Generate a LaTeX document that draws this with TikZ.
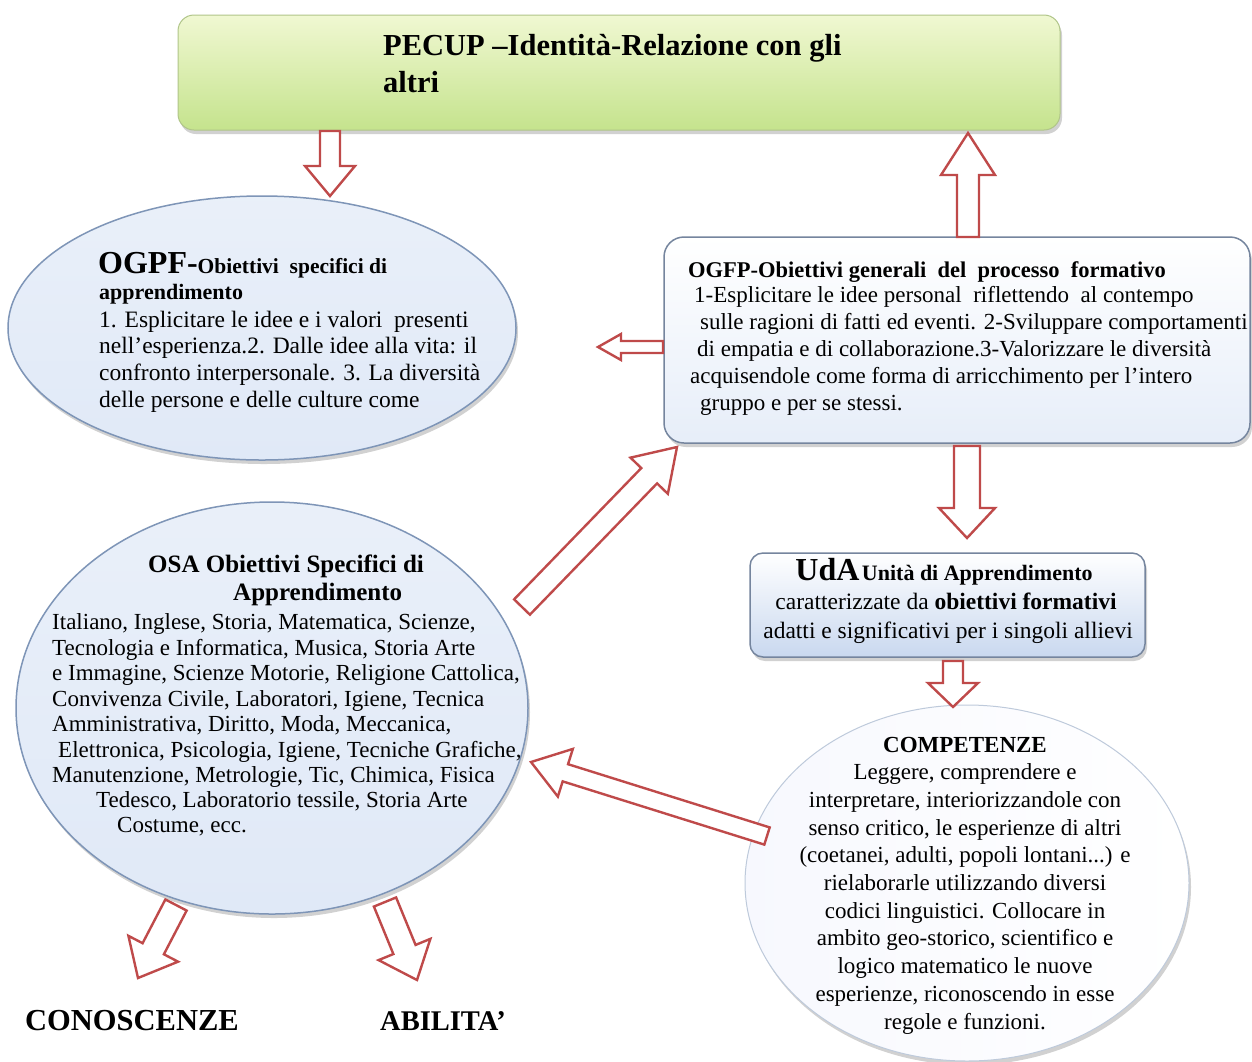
\documentclass[tikz,border=0pt]{standalone}
\usepackage{fontspec}
\setmainfont{Liberation Serif}
\usetikzlibrary{calc,shapes.geometric,shadows}
\definecolor{arrred}{HTML}{BF4A4A}
\definecolor{ellborder}{HTML}{7E95B7}
\definecolor{boxborder}{HTML}{75859E}
\definecolor{ellfill}{HTML}{E0E9F7}
\definecolor{udabot}{HTML}{C9D8EF}
\definecolor{greentop}{HTML}{F0F8D2}
\definecolor{greenbot}{HTML}{C5E38D}
\tikzset{
  myshadow/.style={drop shadow={shadow xshift=2pt,shadow yshift=-4pt,fill=black!40,opacity=.45}},
  pecupbox/.style={rectangle,rounded corners=16pt,draw=greenbot!70!gray,line width=1pt,top color=greentop,bottom color=greenbot,myshadow},
  ellbox/.style={ellipse,draw=ellborder,line width=1.5pt,top color=ellfill!70,bottom color=ellfill,myshadow},
  ogfpbox/.style={rectangle,rounded corners=20pt,draw=boxborder,line width=1.5pt,top color=white,bottom color=ellfill!80,myshadow},
  udabox/.style={rectangle,rounded corners=13pt,draw=boxborder,line width=1.5pt,top color=white,bottom color=udabot,myshadow},
  compbox/.style={ellipse,draw=ellborder!50,line width=1pt,left color=ellfill!90!blue!15,right color=white,myshadow},
  blockarr/.style={draw=arrred,line width=2.4pt,fill=white,line join=miter},
  ln/.style={anchor=base west,inner sep=0pt},
  lc/.style={anchor=base,inner sep=0pt},
}
\newcommand\barrow[5]{%
  \coordinate (hb) at ($(#2)!#5!(#1)$);
  \draw[blockarr] ($(#1)!#3!90:(#2)$) -- ($(hb)!#3!90:(#2)$) -- ($(hb)!#4!90:(#2)$) -- (#2)
    -- ($(hb)!#4!-90:(#2)$) -- ($(hb)!#3!-90:(#2)$) -- ($(#1)!#3!-90:(#2)$) -- cycle;}
\newcommand\fs[1]{\fontsize{#1}{#1}\selectfont}
\begin{document}
\begin{tikzpicture}[x=1pt,y=-1pt]
\useasboundingbox (0,0) rectangle (1252,1061);
\fill[white] (0,0) rectangle (1252,1061);

% shapes
\node[pecupbox,minimum width=882pt,minimum height=115pt] (pecup) at (619,72.5) {};
\node[ellbox,minimum width=508pt,minimum height=264pt] (ogpf) at (262,328) {};
\node[ogfpbox,minimum width=586pt,minimum height=206pt] (ogfp) at (957,340) {};
\node[ellbox,minimum width=512pt,minimum height=412pt] (osa) at (272,708) {};
\node[udabox,minimum width=395pt,minimum height=104pt] (uda) at (947.5,605) {};
\node[compbox,minimum width=444pt,minimum height=356pt] (comp) at (967,883) {};

% block arrows (connectors)
\coordinate (a1s) at (330,131); \coordinate (a1e) at (330,196);
\coordinate (a2s) at (968,237); \coordinate (a2e) at (968,133);
\coordinate (a3s) at (663,347); \coordinate (a3e) at (598,347);
\coordinate (a4s) at (522,607); \coordinate (a4e) at (677,447);
\coordinate (a5s) at (967,446); \coordinate (a5e) at (967,538);
\coordinate (a6s) at (953,661); \coordinate (a6e) at (953,707);
\coordinate (a7s) at (767,836); \coordinate (a7e) at (531,762);
\coordinate (a8s) at (176,905); \coordinate (a8e) at (138,978);
\coordinate (a9s) at (385,902); \coordinate (a9e) at (417,980);
\barrow{a1s}{a1e}{10pt}{25pt}{30pt}
\barrow{a2s}{a2e}{11pt}{27pt}{42pt}
\barrow{a3s}{a3e}{6pt}{13pt}{23pt}
\barrow{a4s}{a4e}{11pt}{26pt}{40pt}
\barrow{a5s}{a5e}{13pt}{28pt}{30pt}
\barrow{a6s}{a6e}{10pt}{25pt}{24pt}
\barrow{a7s}{a7e}{9pt}{25pt}{36pt}
\barrow{a8s}{a8e}{12pt}{28pt}{33pt}
\barrow{a9s}{a9e}{12pt}{28pt}{33pt}

% PECUP text
\node[ln,font=\fs{30.5}\bfseries] (p1) at (383,55) {PECUP –Identità-Relazione con gli};
\node[ln,font=\fs{30.5}\bfseries] (p2) at (383,92) {altri};

% OGPF text
\node[ln] (o1) at (98,273) {{\fs{32}\bfseries OGPF-}{\fs{21.5}\bfseries Obiettivi\ \ specifici di}};
\node[ln,font=\fs{22}\bfseries] (o2) at (99,299) {apprendimento};
\node[ln,font=\fs{23.5}] (o3) at (99,327) {1. Esplicitare le idee e i valori\ \ presenti};
\node[ln,font=\fs{23.5}] (o4) at (99,353) {nell’esperienza.2. Dalle idee alla vita: il};
\node[ln,font=\fs{23.5}] (o5) at (99,380) {confronto interpersonale. 3. La diversità};
\node[ln,font=\fs{23.5}] (o6) at (99,407) {delle persone e delle culture come};

% OGFP text
\node[ln,font=\fs{22.5}\bfseries] (g1) at (688,277) {OGFP-Obiettivi generali\ \ del\ \ processo\ \ formativo};
\node[ln,font=\fs{23}] (g2) at (694,302) {1-Esplicitare le idee personal\ \ riflettendo\ \ al contempo};
\node[ln,font=\fs{23}] (g3) at (700,329) {sulle ragioni di fatti ed eventi. 2-Sviluppare comportamenti};
\node[ln,font=\fs{23}] (g4) at (697,356) {di empatia e di collaborazione.3-Valorizzare le diversità};
\node[ln,font=\fs{23}] (g5) at (690,383) {acquisendole come forma di arricchimento per l’intero};
\node[ln,font=\fs{23}] (g6) at (700,410) {gruppo e per se stessi.};

% UdA text
\node[lc] (u1) at (944,580) {{\fs{32}\bfseries UdA} {\fs{22}\bfseries Unità di Apprendimento}};
\node[lc,font=\fs{23.5}] (u2) at (946,609) {caratterizzate da \textbf{obiettivi formativi}};
\node[lc,font=\fs{23.5}] (u3) at (948,638) {adatti e significativi per i singoli allievi};

% COMPETENZE text
\node[lc,font=\fs{23}\bfseries] (c0) at (965,752) {COMPETENZE};
\node[lc,font=\fs{23}] (c1) at (965,779.7) {Leggere, comprendere e};
\node[lc,font=\fs{23}] (c2) at (965,807.4) {interpretare, interiorizzandole con};
\node[lc,font=\fs{23}] (c3) at (965,835.1) {senso critico, le esperienze di altri};
\node[lc,font=\fs{23}] (c4) at (965,862.8) {(coetanei, adulti, popoli lontani...) e};
\node[lc,font=\fs{23}] (c5) at (965,890.5) {rielaborarle utilizzando diversi};
\node[lc,font=\fs{23}] (c6) at (965,918.2) {codici linguistici. Collocare in};
\node[lc,font=\fs{23}] (c7) at (965,945.9) {ambito geo-storico, scientifico e};
\node[lc,font=\fs{23}] (c8) at (965,973.6) {logico matematico le nuove};
\node[lc,font=\fs{23}] (c9) at (965,1001.3) {esperienze, riconoscendo in esse};
\node[lc,font=\fs{23}] (c10) at (965,1029) {regole e funzioni.};

% OSA text
\node[ln,font=\fs{25}\bfseries] (s0) at (148,572) {OSA Obiettivi Specifici di};
\node[ln,font=\fs{25}\bfseries] (s1) at (233,600) {Apprendimento};
\node[ln,font=\fs{23}] (s2) at (52,629) {Italiano, Inglese, Storia, Matematica, Scienze,};
\node[ln,font=\fs{23}] (s3) at (52,655) {Tecnologia e Informatica, Musica, Storia Arte};
\node[ln,font=\fs{23}] (s4) at (52,680) {e Immagine, Scienze Motorie, Religione Cattolica,};
\node[ln,font=\fs{23}] (s5) at (52,706) {Convivenza Civile, Laboratori, Igiene, Tecnica};
\node[ln,font=\fs{23}] (s6) at (52,731) {Amministrativa, Diritto, Moda, Meccanica,};
\node[ln,font=\fs{23}] (s7) at (58,757) {Elettronica, Psicologia, Igiene, Tecniche Grafiche,};
\node[ln,font=\fs{23}] (s8) at (52,782) {Manutenzione, Metrologie, Tic, Chimica, Fisica};
\node[ln,font=\fs{23}] (s9) at (96,807) {Tedesco, Laboratorio tessile, Storia Arte};
\node[ln,font=\fs{23}] (s10) at (117,832) {Costume, ecc.};

% bottom labels
\node[ln,font=\fs{30.5}\bfseries] (k1) at (25,1030) {CONOSCENZE};
\node[ln,font=\fs{28.5}\bfseries] (k2) at (380,1030) {ABILITA’};
\end{tikzpicture}
\end{document}
